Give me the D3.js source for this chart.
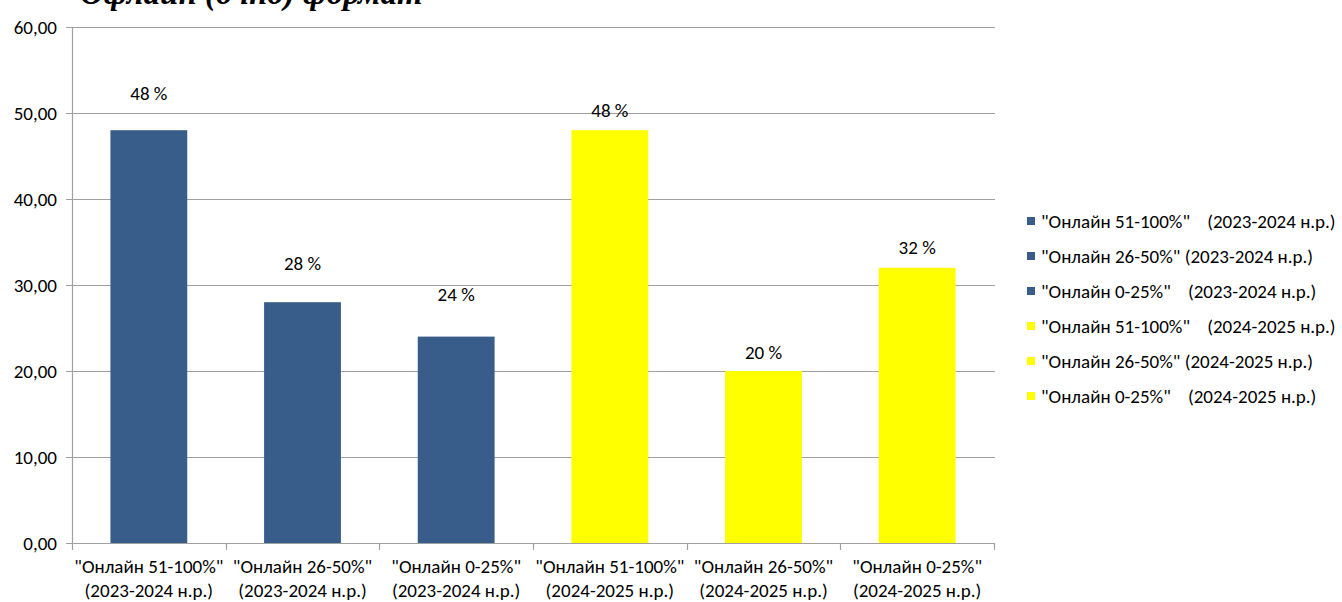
<!DOCTYPE html>
<html><head><meta charset="utf-8">
<script src="https://cdn.jsdelivr.net/npm/d3@7"></script>
<style>
body{margin:0;background:#fff;}
svg{display:block;}
text{font-family:"Carlito","Open Sans","Noto Sans",sans-serif;fill:#000;}
</style></head><body>
<svg id="c" width="1342" height="602"></svg>
<script>
const title = "Офлайн (очно) формат";
const categories = [
  ['"Онлайн 51-100%"', '(2023-2024 н.р.)'],
  ['"Онлайн 26-50%"', '(2023-2024 н.р.)'],
  ['"Онлайн 0-25%"', '(2023-2024 н.р.)'],
  ['"Онлайн 51-100%"', '(2024-2025 н.р.)'],
  ['"Онлайн 26-50%"', '(2024-2025 н.р.)'],
  ['"Онлайн 0-25%"', '(2024-2025 н.р.)']
];
const values = [48, 28, 24, 48, 20, 32];
const valueLabels = ["48 %", "28 %", "24 %", "48 %", "20 %", "32 %"];
const seriesGroup = [0, 0, 0, 1, 1, 1];
const legendLabels = [
  '"Онлайн 51-100%"    (2023-2024 н.р.)',
  '"Онлайн 26-50%" (2023-2024 н.р.)',
  '"Онлайн 0-25%"    (2023-2024 н.р.)',
  '"Онлайн 51-100%"    (2024-2025 н.р.)',
  '"Онлайн 26-50%" (2024-2025 н.р.)',
  '"Онлайн 0-25%"    (2024-2025 н.р.)'
];
const yTicks = [0, 10, 20, 30, 40, 50, 60];
const colors = ["#385d8a", "#ffff00"];
const labelGap = [37, 39, 42, 20, 19, 20];

const svg = d3.select("#c");
const m = {l:72, r:994, t:27, b:543};
const x = d3.scaleBand().domain(d3.range(categories.length)).range([m.l, m.r]).paddingInner(0.5).paddingOuter(0.25);
const xb = d3.scaleBand().domain(d3.range(categories.length)).range([m.l, m.r]);
const y = d3.scaleLinear().domain([0, 60]).range([m.b, m.t]);
const fmt = v => d3.format(".2f")(v).replace(".", ",");

// title (clipped at the top edge, as in the reference)
svg.append("text").attr("x", 80).attr("y", 4)
  .style("font-family", '"Liberation Serif","DejaVu Serif",serif')
  .style("font-weight", "bold").style("font-style", "italic")
  .style("font-size", "33px").text(title);

// gridlines
svg.append("g").selectAll("line").data(yTicks).join("line")
  .attr("x1", m.l - 6).attr("x2", m.r + 1)
  .attr("y1", d => Math.round(y(d)) + 0.5).attr("y2", d => Math.round(y(d)) + 0.5)
  .attr("stroke", "#a0a0a0").attr("stroke-width", 1.2);

// y axis line
svg.append("line").attr("x1", m.l + 0.5).attr("x2", m.l + 0.5).attr("y1", m.t).attr("y2", m.b)
  .attr("stroke", "#a0a0a0").attr("stroke-width", 1.2);

// y labels
svg.append("g").selectAll("text").data(yTicks).join("text")
  .attr("x", 57).attr("y", d => y(d)).attr("dy", "0.35em").attr("text-anchor", "end")
  .style("font-size", "19px").text(fmt);

// x tick marks at category boundaries
svg.append("g").selectAll("line").data(d3.range(categories.length + 1)).join("line")
  .attr("x1", i => Math.round(m.l + i * xb.bandwidth()) + 0.5)
  .attr("x2", i => Math.round(m.l + i * xb.bandwidth()) + 0.5)
  .attr("y1", m.b).attr("y2", m.b + 7)
  .attr("stroke", "#a0a0a0").attr("stroke-width", 1.2);

// bars
svg.append("g").selectAll("rect").data(values).join("rect")
  .attr("x", (d, i) => x(i)).attr("width", x.bandwidth())
  .attr("y", d => y(d)).attr("height", d => m.b - y(d))
  .attr("fill", (d, i) => colors[seriesGroup[i]]);

// value labels
svg.append("g").selectAll("text").data(values).join("text")
  .attr("x", (d, i) => x(i) + x.bandwidth() / 2)
  .attr("y", (d, i) => y(d) - labelGap[i]).attr("dy", "0.35em")
  .attr("text-anchor", "middle").style("font-size", "19px")
  .text((d, i) => valueLabels[i]);

// x labels
const xl = svg.append("g").selectAll("text").data(categories).join("text")
  .attr("text-anchor", "middle").style("font-size", "19px");
xl.append("tspan").attr("x", (d, i) => xb(i) + xb.bandwidth() / 2).attr("y", 573).text(d => d[0]);
xl.append("tspan").attr("x", (d, i) => xb(i) + xb.bandwidth() / 2).attr("y", 597).text(d => d[1]);

// legend
const lg = svg.append("g").selectAll("g").data(legendLabels).join("g")
  .attr("transform", (d, i) => `translate(1027, ${221 + i * 35})`);
lg.append("rect").attr("x", 0).attr("y", -4).attr("width", 8).attr("height", 8)
  .attr("fill", (d, i) => colors[seriesGroup[i]]);
lg.append("text").attr("x", 14).attr("y", 0).attr("dy", "0.35em")
  .style("font-size", "19px").style("white-space", "pre").text(d => d);
</script>
</body></html>
